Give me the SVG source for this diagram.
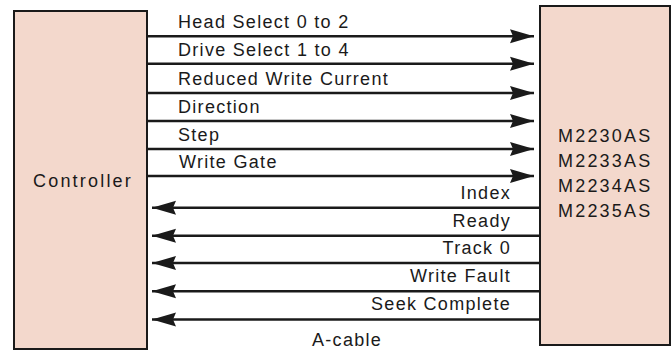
<svg xmlns="http://www.w3.org/2000/svg" width="672" height="350" viewBox="0 0 672 350">
<style>
.box{fill:#f3d8cc;stroke:#1a1a1a;stroke-width:2}
.t{font-family:"Liberation Sans",Arial,sans-serif;font-size:18px;fill:#1a1a1a;letter-spacing:1.3px}
.m{letter-spacing:2.2px}
.e{text-anchor:end}
.w{stroke:#1a1a1a;stroke-width:2.6;fill:none}
</style>
<defs>
<marker id="ah" markerUnits="userSpaceOnUse" markerWidth="26" markerHeight="16" refX="24" refY="8" orient="auto">
<path d="M0,1 L24,8 L0,15 L3,8 z" fill="#1a1a1a"/>
</marker>
</defs>
<rect width="672" height="350" fill="#ffffff"/>
<g id="controller">
<rect class="box" x="14" y="11" width="133" height="338"/>
<text class="t m" x="33" y="187">Controller</text>
</g>
<g id="drive">
<rect class="box" x="540" y="6" width="130" height="339"/>
<text class="t m" x="558" y="142">M2230AS</text>
<text class="t m" x="558" y="167">M2233AS</text>
<text class="t m" x="558" y="192">M2234AS</text>
<text class="t m" x="558" y="217">M2235AS</text>
</g>
<g id="connectors">
<line class="w" x1="147" y1="36.3" x2="534" y2="36.3" marker-end="url(#ah)"/>
<line class="w" x1="147" y1="63.7" x2="534" y2="63.7" marker-end="url(#ah)"/>
<line class="w" x1="147" y1="93" x2="534" y2="93" marker-end="url(#ah)"/>
<line class="w" x1="147" y1="121" x2="534" y2="121" marker-end="url(#ah)"/>
<line class="w" x1="147" y1="149" x2="534" y2="149" marker-end="url(#ah)"/>
<line class="w" x1="147" y1="176" x2="534" y2="176" marker-end="url(#ah)"/>
<line class="w" x1="540" y1="207.7" x2="152" y2="207.7" marker-end="url(#ah)"/>
<line class="w" x1="540" y1="235.8" x2="152" y2="235.8" marker-end="url(#ah)"/>
<line class="w" x1="540" y1="263" x2="152" y2="263" marker-end="url(#ah)"/>
<line class="w" x1="540" y1="291.2" x2="152" y2="291.2" marker-end="url(#ah)"/>
<line class="w" x1="540" y1="319.5" x2="152" y2="319.5" marker-end="url(#ah)"/>
</g>
<g id="labels">
<text class="t" x="178" y="28">Head Select 0 to 2</text>
<text class="t" x="178" y="56">Drive Select 1 to 4</text>
<text class="t" x="178" y="85">Reduced Write Current</text>
<text class="t" x="178" y="113">Direction</text>
<text class="t" x="178" y="141">Step</text>
<text class="t" x="179" y="168">Write Gate</text>
<text class="t e" x="511" y="199">Index</text>
<text class="t e" x="511" y="227">Ready</text>
<text class="t e" x="511" y="254">Track 0</text>
<text class="t e" x="511" y="282">Write Fault</text>
<text class="t e" x="511" y="310">Seek Complete</text>
<text class="t" x="312" y="346">A-cable</text>
</g>
</svg>
